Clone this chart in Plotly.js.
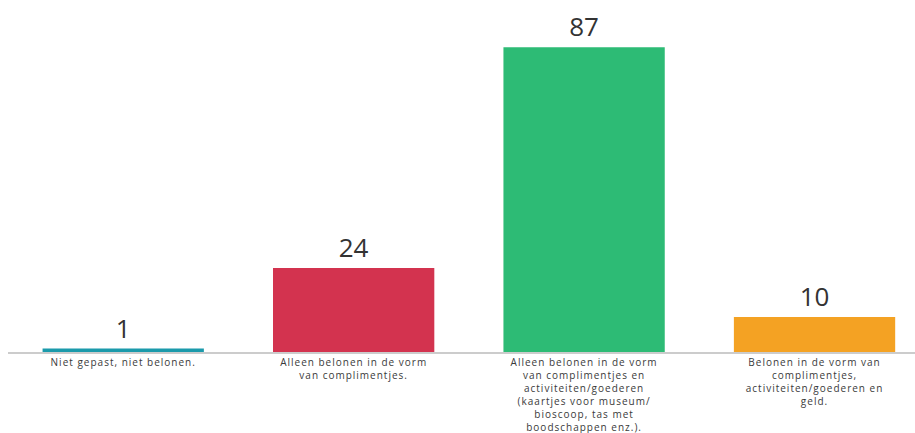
<!DOCTYPE html>
<html>
<head>
<meta charset="utf-8">
<script src="https://cdn.plot.ly/plotly-3.0.1.min.js"></script>
<style>
html,body{margin:0;padding:0;background:#fff;}
#chart{width:915px;height:433px;}
#chart .xtick text{letter-spacing:1px;}
</style>
</head>
<body>
<div id="chart"></div>
<script>
const categories = [
  "Niet gepast, niet belonen.",
  "Alleen belonen in de vorm<br>van complimentjes.",
  "Alleen belonen in de vorm<br>van complimentjes en<br>activiteiten/goederen<br>(kaartjes voor museum/<br>bioscoop, tas met<br>boodschappen enz.).",
  "Belonen in de vorm van<br>complimentjes,<br>activiteiten/goederen en<br>geld."
];
const values = [1, 24, 87, 10];
const colors = ["#1b9aab", "#d3334f", "#2dbb75", "#f4a223"];

const idx = categories.map((c, i) => i);

Plotly.newPlot("chart", [{
  type: "bar",
  x: idx,
  y: values,
  marker: {color: colors},
  width: 0.7,
  text: values.map(String),
  textposition: "outside",
  textfont: {family: "Open Sans, Lato, sans-serif", size: 26, color: "#333333"},
  cliponaxis: false,
  hoverinfo: "none"
}], {
  width: 915, height: 433,
  margin: {l: 8, r: 0, t: 0, b: 81},
  paper_bgcolor: "#ffffff",
  plot_bgcolor: "#ffffff",
  showlegend: false,
  xaxis: {
    range: [-0.5, 3.436],
    tickmode: "array",
    tickvals: idx,
    ticktext: categories,
    tickfont: {family: "Open Sans, sans-serif", size: 10, color: "#3a3a3a"},
    showline: true, linecolor: "#cccccc", linewidth: 1.5,
    showgrid: false, zeroline: false, ticks: "", tickangle: 0,
    fixedrange: true
  },
  yaxis: {
    range: [0, 100.5],
    visible: false,
    showgrid: false, zeroline: false, fixedrange: true
  }
}, {displayModeBar: false, staticPlot: true});
</script>
</body>
</html>
